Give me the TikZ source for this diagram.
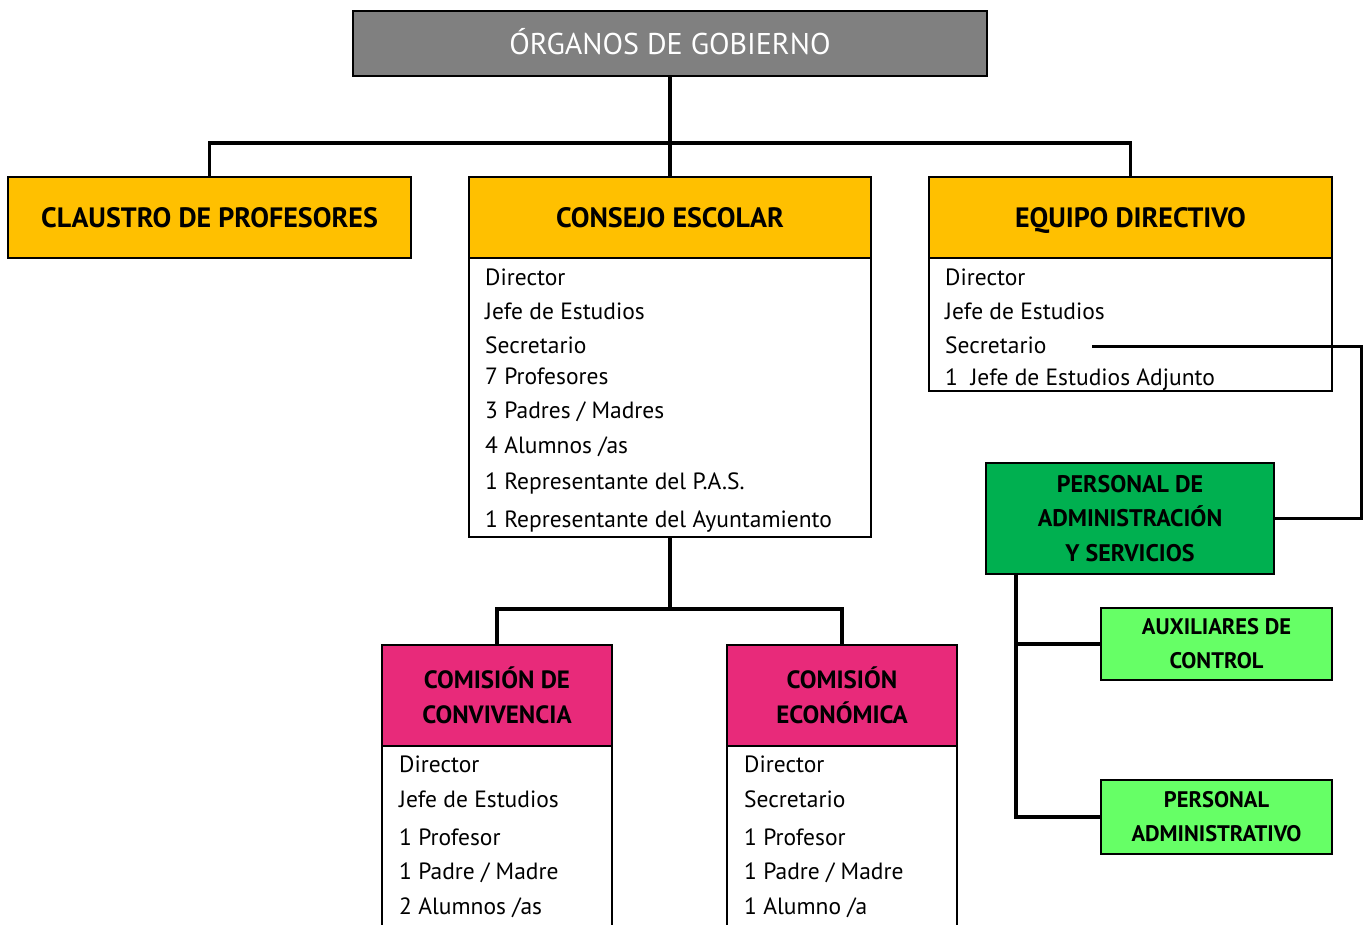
\documentclass[tikz,border=0pt]{standalone}
\usepackage{fontspec}
\setmainfont{PT Sans}
\usetikzlibrary{positioning}
\definecolor{gris}{RGB}{128,128,128}
\definecolor{naranja}{RGB}{255,192,0}
\definecolor{rosa}{RGB}{232,42,122}
\definecolor{verdeosc}{RGB}{0,176,80}
\definecolor{verdecla}{RGB}{102,255,102}

\begin{document}
\begin{tikzpicture}[x=1pt,y=-1pt,
    caja/.style={draw,line width=2pt,anchor=north west,inner sep=0pt,outer sep=0pt,align=center},
    titulo/.style={caja,fill=naranja,text height=19.6pt,text depth=0pt,
      font=\fontsize{28}{30}\selectfont\bfseries},
    comision/.style={caja,fill=rosa,font=\fontsize{25}{35}\selectfont\bfseries},
    cuerpo/.style={caja,fill=white},
    linea/.style={anchor=west,inner sep=0pt,text height=16.5pt,text depth=0pt,
      font=\fontsize{23.5}{26}\selectfont},
    conector/.style={line width=3.5pt}]
  \path[use as bounding box,clip] (0,0) rectangle (1367,924);

  % cabecera
  \node[caja,fill=gris,text=white,minimum width=634pt,minimum height=65pt,
    text height=21pt,text depth=0pt,
    font=\fontsize{30}{32}\selectfont] (og) at (353,11) {ÓRGANOS DE GOBIERNO};

  % primer nivel
  \node[titulo,minimum width=403pt,minimum height=81pt] (cp) at (8,177) {CLAUSTRO DE PROFESORES};
  \node[titulo,minimum width=402pt,minimum height=81pt] (ce) at (469,177) {CONSEJO ESCOLAR};
  \node[titulo,minimum width=403pt,minimum height=81pt] (ed) at (929,177) {EQUIPO DIRECTIVO};
  \node[cuerpo,minimum width=402pt,minimum height=279pt] (ce-c) at (469,258) {};
  \node[cuerpo,minimum width=403pt,minimum height=133pt] (ed-c) at (929,258) {};

  \foreach \yy/\txt [count=\i] in {277/{Director}, 311/{Jefe de Estudios}, 345/{Secretario},
      376/{7 Profesores}, 410/{3 Padres / Madres}, 445/{4 Alumnos /as},
      481/{1 Representante del P.A.S.}, 519/{1 Representante del Ayuntamiento}}
    \node[linea] (ce-\i) at (485,\yy) {\txt};
  \foreach \yy/\txt [count=\i] in {277/{Director}, 311/{Jefe de Estudios}, 345/{Secretario},
      377/{1\ \ Jefe de Estudios Adjunto}}
    \node[linea] (ed-\i) at (945,\yy) {\txt};

  % comisiones
  \node[comision,minimum width=230pt,minimum height=101pt] (cc) at (382,645) {COMISIÓN DE\\CONVIVENCIA};
  \node[comision,minimum width=230pt,minimum height=101pt] (cec) at (727,645) {COMISIÓN\\ECONÓMICA};
  \node[cuerpo,minimum width=230pt,minimum height=200pt] (cc-c) at (382,746) {};
  \node[cuerpo,minimum width=230pt,minimum height=200pt] (cec-c) at (727,746) {};
  \foreach \yy/\txt [count=\i] in {764/{Director}, 799/{Jefe de Estudios}, 837/{1 Profesor},
      871/{1 Padre / Madre}, 906/{2 Alumnos /as}}
    \node[linea] (cc-\i) at (399,\yy) {\txt};
  \foreach \yy/\txt [count=\i] in {764/{Director}, 799/{Secretario}, 837/{1 Profesor},
      871/{1 Padre / Madre}, 906/{1 Alumno /a}}
    \node[linea] (cec-\i) at (744,\yy) {\txt};

  % personal
  \node[caja,fill=verdeosc,minimum width=288pt,minimum height=111pt,
    font=\fontsize{24}{34.5}\selectfont\bfseries] (pas) at (986,463)
    {PERSONAL DE\\ADMINISTRACIÓN\\Y SERVICIOS};
  \node[caja,fill=verdecla,minimum width=231pt,minimum height=72pt,
    font=\fontsize{22.5}{34}\selectfont\bfseries] (aux) at (1101,608) {AUXILIARES DE\\CONTROL};
  \node[caja,fill=verdecla,minimum width=231pt,minimum height=74pt,
    font=\fontsize{22.5}{34}\selectfont\bfseries] (padm) at (1101,780) {PERSONAL\\ADMINISTRATIVO};

  % conectores
  \coordinate (reparto) at (670,143);
  \draw[conector] (og.south) -- (reparto);
  \draw[conector] (reparto) -| (cp.north);
  \draw[conector] (reparto) -| (ed.north);
  \draw[conector] (reparto) -- (ce.north);
  \coordinate (reparto2) at (670,609);
  \draw[conector] (ce-c.south) -- (reparto2);
  \draw[conector] (reparto2) -| (cc.north);
  \draw[conector] (reparto2) -| (cec.north);
  \coordinate (secfin) at (1092,346);
  \draw[conector,line width=3pt] (secfin) -- ++(269,0) |- (pas.east);
  \coordinate (pas-pie) at (1016,574);
  \draw[conector] (pas-pie) |- (aux.west);
  \draw[conector] (pas-pie) |- (padm.west);
\end{tikzpicture}
\end{document}
